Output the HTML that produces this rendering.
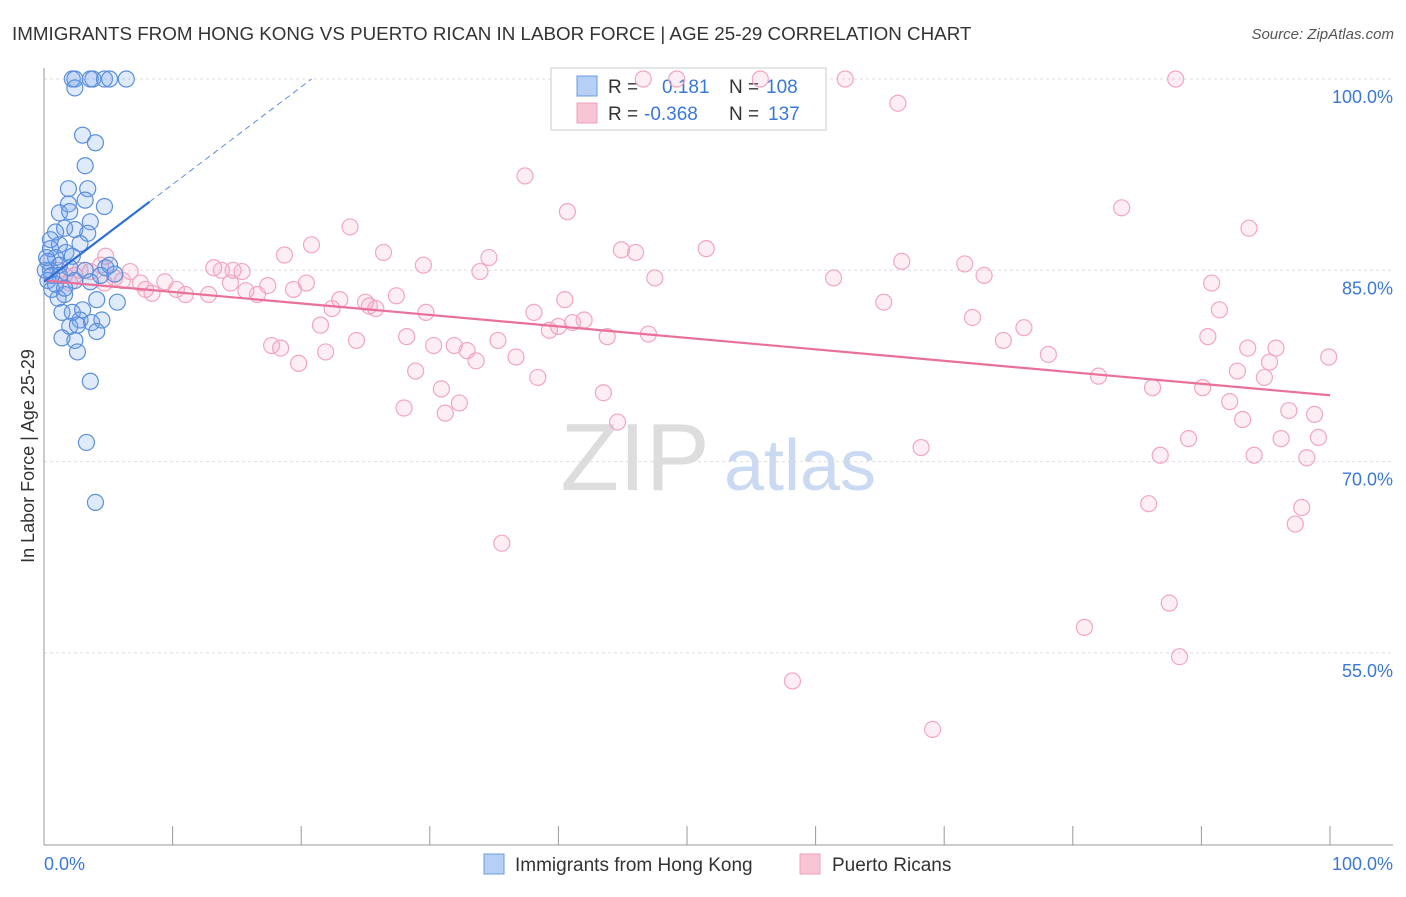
<!DOCTYPE html>
<html><head><meta charset="utf-8"><style>
body{margin:0;background:#fff;font-family:"Liberation Sans",sans-serif;}
svg text{font-family:"Liberation Sans",sans-serif;}
</style></head><body>
<svg id="chart" width="1406" height="892">
<text x="12" y="40" font-size="18.8" fill="#333">IMMIGRANTS FROM HONG KONG VS PUERTO RICAN IN LABOR FORCE | AGE 25-29 CORRELATION CHART</text>
<text x="1394" y="39" font-size="15" fill="#555" text-anchor="end" font-style="italic">Source: ZipAtlas.com</text>
<text x="34" y="456" font-size="18" fill="#333" text-anchor="middle" transform="rotate(-90 34 456)">In Labor Force | Age 25-29</text>
<g><text x="635" y="490" font-size="96" fill="#ddd" text-anchor="middle" font-family="Liberation Serif,serif">ZIP</text><text x="800" y="490" font-size="72" fill="#c9daf2" text-anchor="middle">atlas</text></g>
<g id="grid"></g><g id="axes"></g>
<g>
<rect x="551" y="68" width="275" height="62" fill="#fff" stroke="#ccc"/>
<rect x="577" y="76" width="20" height="20" fill="#b5cff5" stroke="#6a9be0"/>
<text x="608" y="93" font-size="19" fill="#333">R = </text><text x="662" y="93" font-size="19" fill="#3a78d8">0.181</text>
<text x="729" y="93" font-size="19" fill="#333">N = </text><text x="766" y="93" font-size="19" fill="#3a78d8">108</text>
<rect x="577" y="103" width="20" height="20" fill="#f8c5d4" stroke="#f0a0b8"/>
<text x="608" y="120" font-size="19" fill="#333">R = </text><text x="644" y="120" font-size="19" fill="#3a78d8">-0.368</text>
<text x="729" y="120" font-size="19" fill="#333">N = </text><text x="768" y="120" font-size="19" fill="#3a78d8">137</text>
</g>
<g id="pts"></g><g id="lines"></g>
<g>
<rect x="484" y="854" width="20" height="20" fill="#b5cff5" stroke="#6a9be0"/>
<text x="515" y="871" font-size="19" fill="#333">Immigrants from Hong Kong</text>
<rect x="800" y="854" width="20" height="20" fill="#f8c5d4" stroke="#f0a0b8"/>
<text x="832" y="871" font-size="19" fill="#333">Puerto Ricans</text>
</g>
</svg>
<script>
const yTicks=[100,85,70,55];
const yTickLabels=["100.0%","85.0%","70.0%","55.0%"];
const xTickLabels=["0.0%","100.0%"];
const blueX=[2.2,2.4,3.6,3.8,4.7,5.1,6.4,2.4,3.0,4.0,3.2,1.9,3.4,1.9,3.2,4.7,1.2,2.0,3.6,1.6,2.4,3.4,0.9,2.8,1.2,0.5,1.7,2.2,0.9,0.3,1.2,0.5,2.0,3.2,4.8,5.1,4.4,5.5,1.2,2.4,3.6,0.6,1.6,1.1,4.1,5.7,1.4,2.2,3.0,2.8,3.7,4.5,2.0,2.6,4.1,1.4,2.4,2.6,3.6,3.3,4.0,0.3,0.6,0.9,1.6,0.1,0.2,0.5];
const blueY=[100,100,100,100,100,100,100,99.3,95.6,95.0,93.2,91.4,91.4,90.2,90.5,90.0,89.5,89.6,88.8,88.3,88.2,87.9,88.0,87.1,87.0,86.7,86.4,86.1,86.0,85.7,85.4,85.0,85.2,85.0,85.2,85.4,84.6,84.7,84.6,84.2,84.1,83.5,83.1,82.8,82.7,82.5,81.7,81.7,81.9,81.1,80.9,81.1,80.6,80.7,80.2,79.7,79.5,78.6,76.3,71.5,66.8,84.2,84.6,83.9,83.6,85.0,86.0,87.4];
const pinkX=[46.6,49.2,55.7,62.3,88.0,66.4,37.4,40.7,83.8,23.8,93.7,20.8,18.7,26.4,34.6,44.9,46.0,51.5,29.5,33.9,47.5,61.4,66.7,71.6,73.1,90.8,13.2,13.8,14.7,15.4,6.7,4.8,4.4,3.6,5.5,6.1,7.5,9.4,7.9,8.4,10.3,11.0,12.8,14.5,15.7,16.6,17.4,19.4,20.4,23.0,22.4,21.5,25.0,25.8,25.3,27.4,29.7,38.1,40.5,39.3,40.0,41.1,42.0,43.8,47.0,65.3,72.2,76.2,91.4,90.5,74.6,78.1,93.6,95.8,99.9,95.3,17.7,18.4,19.8,21.9,24.3,28.2,30.3,31.9,32.9,33.6,35.3,36.7,28.9,30.9,32.3,31.2,28.0,38.4,43.5,44.6,82.0,86.2,90.1,92.2,92.8,94.9,96.8,98.8,93.2,96.2,99.1,89.0,86.8,94.1,98.2,68.2,85.9,97.8,97.3,35.6,87.5,80.9,88.3,58.2,69.1,1.1,1.6,2.4,2.8,4.7,2.0];
const pinkY=[100,100,100,100,100,98.1,92.4,89.6,89.9,88.4,88.3,87.0,86.2,86.4,86.0,86.6,86.4,86.7,85.4,84.9,84.4,84.4,85.7,85.5,84.6,84.0,85.2,85.0,85.0,84.9,84.9,86.1,85.4,84.9,84.4,84.2,84.0,84.1,83.5,83.2,83.5,83.1,83.1,84.0,83.4,83.1,83.8,83.5,84.0,82.7,82.0,80.7,82.5,82.0,82.2,83.0,81.7,81.7,82.7,80.3,80.6,80.9,81.1,79.8,80.0,82.5,81.3,80.5,81.9,79.8,79.5,78.4,78.9,78.9,78.2,77.8,79.1,78.9,77.7,78.6,79.5,79.8,79.1,79.1,78.7,77.9,79.5,78.2,77.1,75.7,74.6,73.8,74.2,76.6,75.4,73.1,76.7,75.8,75.8,74.7,77.1,76.6,74.0,73.7,73.3,71.8,71.9,71.8,70.5,70.5,70.3,71.1,66.7,66.4,65.1,63.6,58.9,57.0,54.7,52.8,49.0,85.0,84.6,84.6,85.0,84.0,84.0];
const blueTrend=[84.1,0.764];
const pinkTrend=[84.2,-0.09];
const NS="http://www.w3.org/2000/svg";
const xs=v=>44+v*12.86, ys=v=>79+(100-v)*12.753;
function mk(tag,attrs,parent){const e=document.createElementNS(NS,tag);for(const k in attrs)e.setAttribute(k,attrs[k]);document.getElementById(parent).appendChild(e);return e;}
yTicks.forEach((t,i)=>{
 const l=mk('line',{x1:44,x2:1393,y1:ys(t),y2:ys(t),stroke:'#ddd','stroke-dasharray':'3,3'},'grid');
 
 
 const tx=mk('text',{x:1393,y:ys(t)+24,'font-size':18,fill:'#3a78d8','text-anchor':'end'},'grid');tx.textContent=yTickLabels[i];
 
 
});
mk('line',{x1:44,x2:44,y1:68,y2:845,stroke:'#999'},'axes');
mk('line',{x1:44,x2:1393,y1:845,y2:845,stroke:'#999'},'axes');
for(let i=0;i<=10;i++){const t=mk('line',{x1:xs(i*10),x2:xs(i*10),y1:826,y2:845,stroke:'#999'},'axes');
 
 }
const x0=mk('text',{x:44,y:870,'font-size':18,fill:'#3a78d8'},'axes');x0.textContent=xTickLabels[0];


const x1=mk('text',{x:1393,y:870,'font-size':18,fill:'#3a78d8','text-anchor':'end'},'axes');x1.textContent=xTickLabels[1];


pinkX.forEach((v,i)=>{const c=mk('circle',{cx:xs(v),cy:ys(pinkY[i]),r:8,fill:'rgba(245,160,190,0.18)',stroke:'#f2a6bf','stroke-width':1.2},'pts');
 
 });
blueX.forEach((v,i)=>{const c=mk('circle',{cx:xs(v),cy:ys(blueY[i]),r:8,fill:'rgba(110,160,235,0.22)',stroke:'#5b8fdc','stroke-width':1.2},'pts');
 
 });
const pl=mk('line',{x1:xs(0),y1:ys(pinkTrend[0]),x2:xs(100),y2:ys(pinkTrend[0]+pinkTrend[1]*100),stroke:'#e8709a','stroke-width':2.2},'lines');


const bl=mk('line',{x1:xs(0),y1:ys(blueTrend[0]),x2:xs(8.2),y2:ys(blueTrend[0]+blueTrend[1]*8.2),stroke:'#2d6fd6','stroke-width':2.2},'lines');


const bd=mk('line',{x1:xs(8.2),y1:ys(blueTrend[0]+blueTrend[1]*8.2),x2:xs(20.8),y2:ys(blueTrend[0]+blueTrend[1]*20.8),stroke:'#5b8fdc','stroke-width':1,'stroke-dasharray':'6,4'},'lines');


</script>
</body></html>
